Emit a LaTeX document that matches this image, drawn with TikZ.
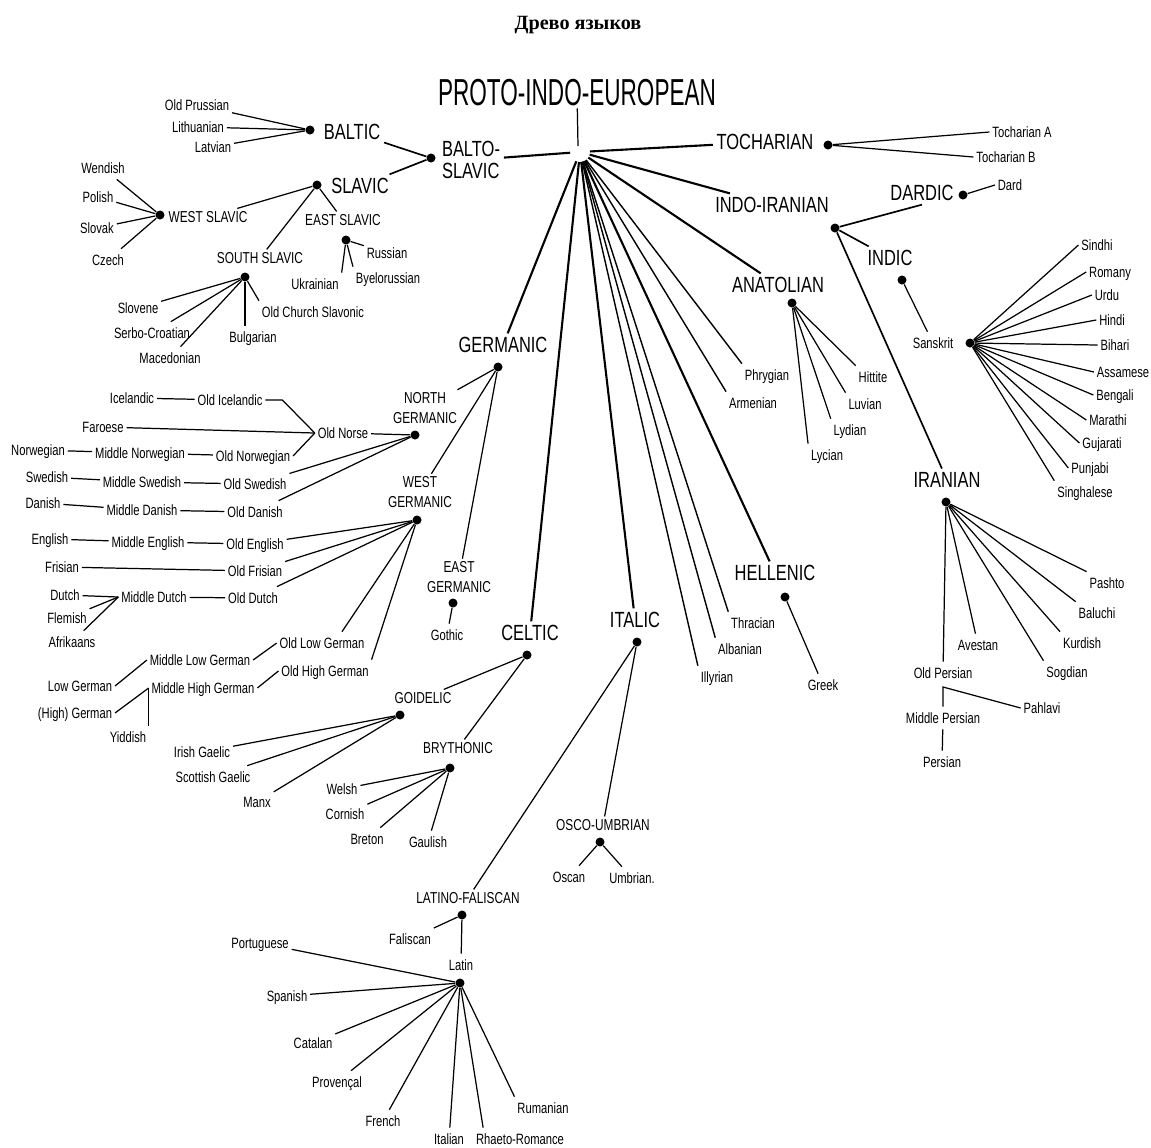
\documentclass[tikz,border=0pt]{standalone}
\usepackage{fontspec}
\setmainfont{Liberation Sans}[FakeStretch=0.75]
\newfontfamily\piefont{Liberation Sans}[FakeStretch=0.6]
\newfontfamily\titlefont{Liberation Serif}
\begin{document}
\begin{tikzpicture}[
    x=0.02cm, y=-0.02cm,
    dot/.style={circle,fill=black,inner sep=0,minimum size=1.8mm},
    lang/.style={inner sep=1.5pt,text height=1.5ex,text depth=.3ex,font=\fontsize{8.5}{9}\selectfont},
    grp/.style={inner sep=1.5pt,font=\fontsize{9}{11}\selectfont},
    fam/.style={inner sep=2pt,font=\fontsize{12.5}{12.5}\selectfont},
    br/.style={line width=0.7pt},
    mid/.style={line width=0.95pt},
    trunk/.style={line width=1.2pt,shorten <=2mm},
    hubln/.style={line width=0.8pt,shorten <=2mm}
    ]
    \useasboundingbox (0,0) rectangle (1151,1147);

    % title and root
    \node[font=\titlefont\bfseries\fontsize{11.5}{12}\selectfont] (title) at (578,25) {Древо языков};
    \node[inner sep=1pt,font=\piefont\fontsize{21.4}{22}\selectfont] (pielbl) at (577,93) {PROTO-INDO-EUROPEAN};
    \coordinate (hub) at (580,152);
    \coordinate (hubtop) at (578,146);

    % families
    \node[fam,align=left] (bslbl) at (471,160) {BALTO-\\SLAVIC};
    \node[dot] (bsdot) at (431,158) {};
    \node[fam] (tochlbl) at (765,142) {TOCHARIAN};
    \node[dot] (tochdot) at (828,145) {};
    \node[fam] (iilbl) at (772,205) {INDO-IRANIAN};
    \node[dot] (iidot) at (835,228) {};
    \node[fam] (anatlbl) at (778,285) {ANATOLIAN};
    \node[dot] (anatdot) at (792,303) {};
    \node[lang] (phryg) at (767,375) {Phrygian};
    \node[lang] (armen) at (753,403) {Armenian};
    \node[fam] (hellbl) at (775,573) {HELLENIC};
    \node[dot] (heldot) at (785,597) {};
    \node[lang] (thrac) at (753,623) {Thracian};
    \node[lang] (alban) at (740,649) {Albanian};
    \node[lang] (illyr) at (717,677) {Illyrian};
    \node[fam] (italbl) at (635,620) {ITALIC};
    \node[dot] (itadot) at (637,642) {};
    \node[fam] (celtlbl) at (530,633) {CELTIC};
    \node[dot] (celtdot) at (527,655) {};
    \node[fam] (germlbl) at (503,345) {GERMANIC};
    \node[dot] (germdot) at (498,367) {};

    % balto-slavic
    \node[fam] (baltlbl) at (352,132) {BALTIC};
    \node[dot] (baltdot) at (310,130) {};
    \node[fam] (slavlbl) at (360,186) {SLAVIC};
    \node[dot] (slavdot) at (317,185) {};
    \node[lang] (oprus) at (197,105) {Old Prussian};
    \node[lang] (lith) at (198,127) {Lithuanian};
    \node[lang] (latv) at (213,147) {Latvian};
    \node[grp] (wslbl) at (208,217) {WEST SLAVIC};
    \node[dot] (wsdot) at (160,215) {};
    \node[lang] (wend) at (103,168) {Wendish};
    \node[lang] (pol) at (98,197) {Polish};
    \node[lang] (slvk) at (97,228) {Slovak};
    \node[lang] (czech) at (108,260) {Czech};
    \node[grp] (eslbl) at (343,220) {EAST SLAVIC};
    \node[dot] (esdot) at (346,240) {};
    \node[lang] (russ) at (387,253) {Russian};
    \node[lang] (byel) at (388,278) {Byelorussian};
    \node[lang] (ukr) at (315,284) {Ukrainian};
    \node[grp] (sslbl) at (260,258) {SOUTH SLAVIC};
    \node[dot] (ssdot) at (245,277) {};
    \node[lang] (slvn) at (138,308) {Slovene};
    \node[lang] (serb) at (152,333) {Serbo-Croatian};
    \node[lang] (mace) at (170,358) {Macedonian};
    \node[lang] (bulg) at (253,337) {Bulgarian};
    \node[lang] (ocs) at (313,312) {Old Church Slavonic};

    % tocharian
    \node[lang] (tocha) at (1022,132) {Tocharian A};
    \node[lang] (tochb) at (1006,157) {Tocharian B};

    % indo-iranian
    \node[fam] (dardlbl) at (922,193) {DARDIC};
    \node[dot] (darddot) at (963,195) {};
    \node[lang] (dard) at (1010,185) {Dard};
    \node[fam] (indlbl) at (890,258) {INDIC};
    \node[dot] (inddot) at (902,280) {};
    \node[lang] (sansk) at (933,343) {Sanskrit};
    \node[dot] (sanskdot) at (970,343) {};
    \node[lang] (sindhi) at (1097,245) {Sindhi};
    \node[lang] (romany) at (1110,272) {Romany};
    \node[lang] (urdu) at (1107,295) {Urdu};
    \node[lang] (hindi) at (1112,320) {Hindi};
    \node[lang] (bihari) at (1115,345) {Bihari};
    \node[lang] (assam) at (1123,372) {Assamese};
    \node[lang] (beng) at (1115,395) {Bengali};
    \node[lang] (marat) at (1108,420) {Marathi};
    \node[lang] (gujar) at (1102,443) {Gujarati};
    \node[lang] (punj) at (1090,468) {Punjabi};
    \node[lang] (singh) at (1085,492) {Singhalese};
    \node[fam] (iranlbl) at (947,480) {IRANIAN};
    \node[dot] (irandot) at (946,502) {};
    \node[lang] (pasht) at (1107,583) {Pashto};
    \node[lang] (baluc) at (1097,613) {Baluchi};
    \node[lang] (kurd) at (1082,643) {Kurdish};
    \node[lang] (sogd) at (1067,672) {Sogdian};
    \node[lang] (avest) at (978,645) {Avestan};
    \node[lang] (opers) at (943,673) {Old Persian};
    \coordinate (opj) at (943,687);
    \node[lang] (mpers) at (943,718) {Middle Persian};
    \node[lang] (pahl) at (1042,708) {Pahlavi};
    \node[lang] (pers) at (942,762) {Persian};

    % anatolian, hellenic
    \node[lang] (hitt) at (873,377) {Hittite};
    \node[lang] (luv) at (865,404) {Luvian};
    \node[lang] (lyd) at (850,430) {Lydian};
    \node[lang] (lyc) at (827,455) {Lycian};
    \node[lang] (greek) at (823,685) {Greek};

    % germanic
    \node[grp,align=center] (nglbl) at (425,408) {NORTH\\GERMANIC};
    \node[dot] (ngdot) at (415,435) {};
    \node[grp,align=center] (wglbl) at (420,492) {WEST\\GERMANIC};
    \node[dot] (wgdot) at (417,520) {};
    \node[grp,align=center] (eglbl) at (459,577) {EAST\\GERMANIC};
    \node[dot] (egdot) at (453,603) {};
    \node[lang] (gothic) at (447,635) {Gothic};
    \node[lang] (onorse) at (343,433) {Old Norse};
    \node[lang] (oicel) at (230,400) {Old Icelandic};
    \node[lang] (icel) at (132,398) {Icelandic};
    \node[lang] (faro) at (103,427) {Faroese};
    \node[lang] (onorw) at (253,456) {Old Norwegian};
    \node[lang] (mnorw) at (140,453) {Middle Norwegian};
    \node[lang] (norw) at (38,450) {Norwegian};
    \node[lang] (oswed) at (255,484) {Old Swedish};
    \node[lang] (mswed) at (142,482) {Middle Swedish};
    \node[lang] (swed) at (47,477) {Swedish};
    \node[lang] (odan) at (255,512) {Old Danish};
    \node[lang] (mdan) at (142,510) {Middle Danish};
    \node[lang] (dan) at (43,503) {Danish};
    \node[lang] (oeng) at (255,544) {Old English};
    \node[lang] (meng) at (148,542) {Middle English};
    \node[lang] (eng) at (50,539) {English};
    \node[lang] (ofris) at (255,571) {Old Frisian};
    \node[lang] (fris) at (62,567) {Frisian};
    \node[lang] (odutch) at (253,598) {Old Dutch};
    \node[lang] (mdutch) at (154,597) {Middle Dutch};
    \node[lang] (dutch) at (65,595) {Dutch};
    \node[lang] (flem) at (67,618) {Flemish};
    \node[lang] (afrik) at (72,642) {Afrikaans};
    \node[lang] (olg) at (322,643) {Old Low German};
    \node[lang] (ohg) at (325,671) {Old High German};
    \node[lang] (mlg) at (200,660) {Middle Low German};
    \node[lang] (mhg) at (203,688) {Middle High German};
    \node[lang] (lowg) at (80,686) {Low German};
    \node[lang] (highg) at (75,713) {(High) German};
    \node[lang] (yidd) at (128,737) {Yiddish};

    % celtic
    \node[grp] (goidlbl) at (423,698) {GOIDELIC};
    \node[dot] (goiddot) at (400,715) {};
    \node[lang] (irish) at (202,752) {Irish Gaelic};
    \node[lang] (scot) at (213,777) {Scottish Gaelic};
    \node[lang] (manx) at (257,802) {Manx};
    \node[grp] (brylbl) at (458,748) {BRYTHONIC};
    \node[dot] (brydot) at (450,768) {};
    \node[lang] (welsh) at (342,789) {Welsh};
    \node[lang] (corn) at (345,814) {Cornish};
    \node[lang] (bret) at (367,839) {Breton};
    \node[lang] (gaul) at (428,842) {Gaulish};

    % italic
    \node[grp] (oulbl) at (603,825) {OSCO-UMBRIAN};
    \node[dot] (oudot) at (600,842) {};
    \node[lang] (oscan) at (569,877) {Oscan};
    \node[lang] (umbr) at (632,878) {Umbrian.};
    \node[grp] (lflbl) at (468,898) {LATINO-FALISCAN};
    \node[dot] (lfdot) at (462,915) {};
    \node[lang] (falis) at (410,939) {Faliscan};
    \node[lang] (latin) at (461,965) {Latin};
    \node[dot] (latdot) at (460,983) {};
    \node[lang] (portu) at (260,943) {Portuguese};
    \node[lang] (span) at (287,996) {Spanish};
    \node[lang] (catal) at (313,1043) {Catalan};
    \node[lang] (prov) at (337,1082) {Provençal};
    \node[lang] (french) at (383,1121) {French};
    \node[lang] (ital) at (449,1139) {Italian};
    \node[lang] (rhaet) at (520,1139) {Rhaeto-Romance};
    \node[lang] (ruman) at (543,1108) {Rumanian};

    % lines from the root
    \draw[br] (pielbl) -- (hubtop);
    \draw[trunk] (hub) -- (bslbl);
    \draw[trunk] (hub) -- (tochlbl);
    \draw[trunk] (hub) -- (iilbl);
    \draw[trunk] (hub) -- (anatlbl);
    \draw[hubln] (hub) -- (phryg.north west);
    \draw[hubln] (hub) -- (armen.north west);
    \draw[trunk] (hub) -- (hellbl);
    \draw[hubln] (hub) -- (thrac.north west);
    \draw[hubln] (hub) -- (alban.north west);
    \draw[hubln] (hub) -- (illyr.north west);
    \draw[trunk] (hub) -- (italbl);
    \draw[trunk] (hub) -- (celtlbl);
    \draw[trunk] (hub) -- (germlbl);

    % balto-slavic lines
    \draw[mid] (baltlbl) -- (bsdot);
    \draw[mid] (slavlbl) -- (bsdot);
    \draw[br] (baltdot) -- (oprus);
    \draw[br] (baltdot) -- (lith);
    \draw[br] (baltdot) -- (latv);
    \draw[br] (slavdot) -- (wslbl);
    \draw[br] (slavdot) -- (eslbl);
    \draw[br] (slavdot) -- (sslbl);
    \draw[br] (wsdot) -- (wend);
    \draw[br] (wsdot) -- (pol);
    \draw[br] (wsdot) -- (slvk);
    \draw[br] (wsdot) -- (czech);
    \draw[br] (esdot) -- (russ);
    \draw[br] (esdot) -- (byel.north west);
    \draw[br] (esdot) -- (ukr.north east);
    \draw[br] (ssdot) -- (slvn);
    \draw[br] (ssdot) -- (serb);
    \draw[br] (ssdot) -- (mace);
    \draw[br] (ssdot) -- (ssdot |- bulg.north);
    \draw[br] (ssdot) -- (ocs.north west);

    % tocharian lines
    \draw[br] (tochdot) -- (tocha.west);
    \draw[br] (tochdot) -- (tochb.west);

    % indo-iranian lines
    \draw[mid] (iidot) -- (dardlbl.south);
    \draw[br] (darddot) -- (dard.west);
    \draw[mid] (iidot) -- (indlbl);
    \draw[br] (inddot) -- (sansk);
    \draw[mid] (iidot) -- (iranlbl);
    \draw[br] (sanskdot) -- (sindhi.west);
    \draw[br] (sanskdot) -- (romany.west);
    \draw[br] (sanskdot) -- (urdu.west);
    \draw[br] (sanskdot) -- (hindi.west);
    \draw[br] (sanskdot) -- (bihari.west);
    \draw[br] (sanskdot) -- (assam.west);
    \draw[br] (sanskdot) -- (beng.west);
    \draw[br] (sanskdot) -- (marat.west);
    \draw[br] (sanskdot) -- (gujar.west);
    \draw[br] (sanskdot) -- (punj.west);
    \draw[br] (sanskdot) -- (singh.north west);
    \draw[br] (irandot) -- (pasht.north west);
    \draw[br] (irandot) -- (baluc.north west);
    \draw[br] (irandot) -- (kurd.north west);
    \draw[br] (irandot) -- (sogd.north west);
    \draw[br] (irandot) -- (avest);
    \draw[br] (irandot) -- (opers);
    \draw[br] (mpers) -- (opj) -- (pahl.west);
    \draw[br] (mpers) -- (pers);

    % anatolian and hellenic lines
    \draw[br] (anatdot) -- (hitt.north west);
    \draw[br] (anatdot) -- (luv.north west);
    \draw[br] (anatdot) -- (lyd.north west);
    \draw[br] (anatdot) -- (lyc.north west);
    \draw[br] (heldot) -- (greek);

    % germanic lines
    \draw[br] (germdot) -- (nglbl);
    \draw[br] (germdot) -- (wglbl);
    \draw[br] (germdot) -- (eglbl);
    \draw[br] (egdot) -- (gothic);
    \draw[br] (icel) -- (oicel);
    \draw[br] (oicel.east) -- ([xshift=3.4mm]oicel.east) -- (onorse.west);
    \draw[br] (faro) -- (onorse.west);
    \draw[br] (norw) -- (mnorw);
    \draw[br] (mnorw) -- (onorw);
    \draw[br] (onorw.east) -- (onorse.west);
    \draw[br] (swed) -- (mswed);
    \draw[br] (mswed) -- (oswed);
    \draw[br] (dan) -- (mdan);
    \draw[br] (mdan) -- (odan);
    \draw[br] (onorse) -- (ngdot);
    \draw[br] (oswed) -- (ngdot);
    \draw[br] (odan) -- (ngdot);
    \draw[br] (eng) -- (meng);
    \draw[br] (meng) -- (oeng);
    \draw[br] (fris) -- (ofris);
    \draw[br] (dutch) -- (mdutch.west);
    \draw[br] (flem) -- (mdutch.west);
    \draw[br] (afrik) -- (mdutch.west);
    \draw[br] (mdutch) -- (odutch);
    \draw[br] (oeng) -- (wgdot);
    \draw[br] (ofris) -- (wgdot);
    \draw[br] (odutch) -- (wgdot);
    \draw[br] (wgdot) -- ([xshift=4mm]olg.north);
    \draw[br] (wgdot) -- (ohg.north east);
    \draw[br] (mlg.east) -- (olg.west);
    \draw[br] (lowg.east) -- (mlg.west);
    \draw[br] (mhg.east) -- (ohg.west);
    \draw[br] (highg.east) -- (mhg.west);
    \draw[br] (mhg.west) -- (mhg.west |- yidd.north);

    % celtic lines
    \draw[br] (celtdot) -- (goidlbl);
    \draw[br] (celtdot) -- (brylbl);
    \draw[br] (goiddot) -- (irish);
    \draw[br] (goiddot) -- (scot);
    \draw[br] (goiddot) -- (manx);
    \draw[br] (brydot) -- (welsh);
    \draw[br] (brydot) -- (corn);
    \draw[br] (brydot) -- (bret);
    \draw[br] (brydot) -- (gaul);

    % italic lines
    \draw[br] (itadot) -- (oulbl);
    \draw[br] (oudot) -- (oscan);
    \draw[br] (oudot) -- (umbr);
    \draw[br] (itadot) -- (lflbl);
    \draw[br] (lfdot) -- (falis);
    \draw[br] (lfdot) -- (latin);
    \draw[br] (latdot) -- (portu);
    \draw[br] (latdot) -- (span);
    \draw[br] (latdot) -- (catal);
    \draw[br] (latdot) -- (prov);
    \draw[br] (latdot) -- (french);
    \draw[br] (latdot) -- (ital);
    \draw[br] (latdot) -- ([xshift=2mm]rhaet.north west);
    \draw[br] (latdot) -- (ruman.north west);
  \end{tikzpicture}
\end{document}
